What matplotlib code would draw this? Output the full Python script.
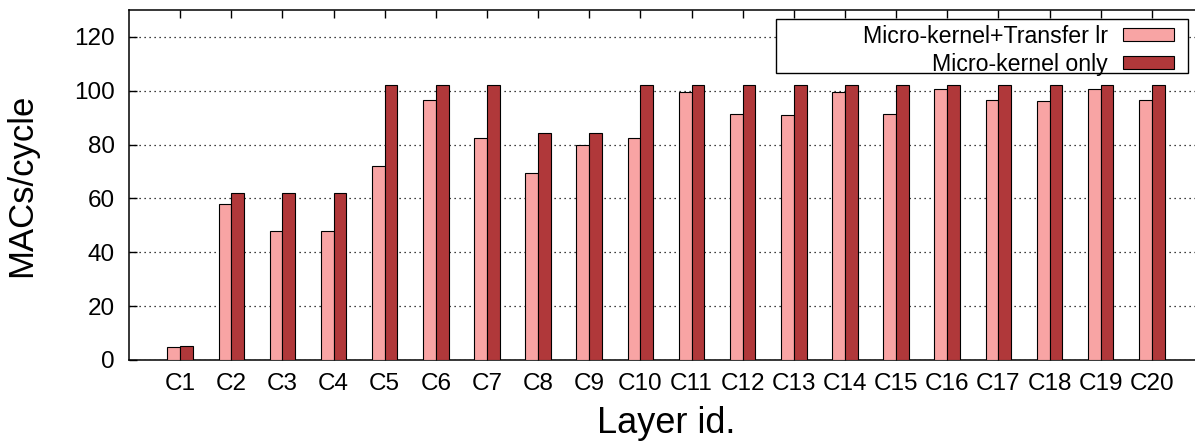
import matplotlib
matplotlib.use('Agg')
import matplotlib.pyplot as plt
from matplotlib.patches import Rectangle
import numpy as np

plt.rcParams['font.family'] = ['Liberation Sans', 'DejaVu Sans']

layers = [f"C{i}" for i in range(1, 21)]
transfer_lr = [4.7, 58.0, 47.9, 47.9, 72.1, 96.7, 82.6, 69.5, 80.0, 82.6,
               99.4, 91.5, 91.1, 99.4, 91.5, 100.8, 96.7, 96.3, 100.8, 96.7]
kernel_only = [5.3, 62.0, 62.0, 62.0, 102.3, 102.3, 102.3, 84.3, 84.3, 102.3,
               102.3, 102.3, 102.3, 102.3, 102.3, 102.3, 102.3, 102.3, 102.3, 102.3]
yticks = [0, 20, 40, 60, 80, 100, 120]

PINK, RED = "#f8a4a4", "#b0383a"
W, H = 1195, 442

fig = plt.figure(figsize=(W / 100, H / 100), dpi=100)
ax = fig.add_axes([129 / W, 82 / H, (1203 - 129) / W, (360 - 10) / H])

x = np.arange(1, len(layers) + 1)
bw = 0.25
b1 = ax.bar(x - bw / 2, transfer_lr, bw, color=PINK, edgecolor='black', linewidth=0.8,
            label="Micro-kernel+Transfer lr", zorder=3)
b2 = ax.bar(x + bw / 2, kernel_only, bw, color=RED, edgecolor='black', linewidth=0.8,
            label="Micro-kernel only", zorder=3)

ax.set_xlim(0, 21)
ax.set_ylim(0, 130)
ax.set_xticks(x)
ax.set_xticklabels(layers)
ax.set_yticks(yticks)
ax.tick_params(axis='both', direction='in', length=6, width=1, labelsize=17.5,
               top=True, right=True)
ax.tick_params(axis='x', pad=9)
ax.tick_params(axis='y', pad=10)
ax.grid(True, axis='y', linestyle=(0, (1, 3)), linewidth=0.9, color='black')
ax.set_axisbelow(True)
for s in ax.spines.values():
    s.set_linewidth(1.1)

ax.set_ylabel("MACs/cycle", fontsize=25, labelpad=26)
ax.set_xlabel("Layer id.", fontsize=26, labelpad=8)

# legend: text right of a wide framed box, gnuplot style
fig.patches.append(Rectangle((776 / W, (H - 73) / H), (1188 - 776) / W, (73 - 19) / H,
                             transform=fig.transFigure, facecolor='white',
                             edgecolor='black', linewidth=1.0, zorder=5))
leg = fig.legend(handles=[b1, b2], loc='upper right', frameon=False, markerfirst=False,
                 fontsize=16.7, handlelength=2.2, handleheight=0.5, handletextpad=0.65,
                 labelspacing=0.2, borderpad=0, borderaxespad=0,
                 bbox_to_anchor=(1174 / W, (H - 25) / H))
leg.set_zorder(6)

fig.savefig("out.png", dpi=100)
